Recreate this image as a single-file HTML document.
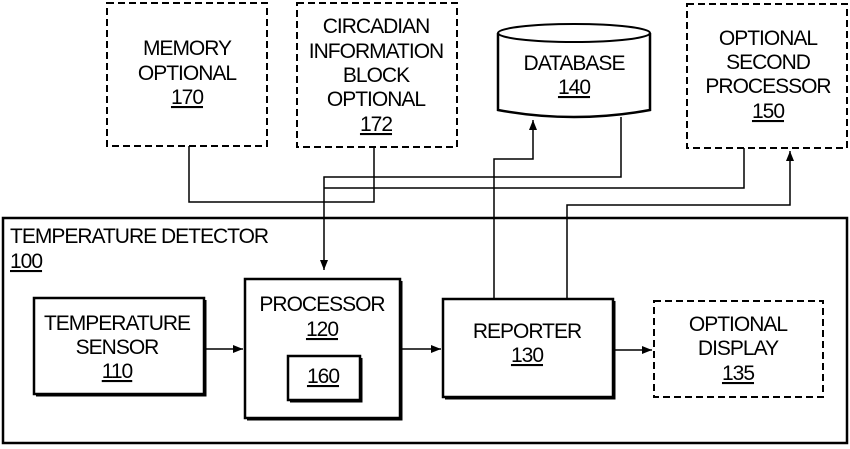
<!DOCTYPE html>
<html><head><style>
html,body{margin:0;padding:0;background:#fff;width:850px;height:449px;overflow:hidden}
text{font-family:"Liberation Sans",sans-serif;font-size:21px;fill:#000;text-anchor:middle;letter-spacing:-1px}
.u{text-decoration:underline}
</style></head><body>
<svg width="850" height="449" viewBox="0 0 850 449" xmlns="http://www.w3.org/2000/svg">
<defs><marker id="a" markerWidth="10" markerHeight="8" refX="10" refY="4" orient="auto" markerUnits="userSpaceOnUse"><path d="M0,0L10,4L0,8z" fill="#000"/></marker></defs>
<g fill="none" stroke="#000">
<rect x="107" y="3" width="160" height="143" stroke-width="2" stroke-dasharray="7,4"/>
<rect x="297" y="3" width="160" height="144" stroke-width="2" stroke-dasharray="7,4"/>
<rect x="687" y="4" width="160" height="144" stroke-width="2" stroke-dasharray="7,4"/>
<rect x="654" y="301" width="169" height="96" stroke-width="2" stroke-dasharray="7,4"/>
<rect x="3" y="218" width="844" height="225" stroke-width="2.5"/>
<rect x="34" y="298" width="170" height="96" stroke-width="2.5"/>
<path d="M36,395H205V300" stroke-width="3"/>
<rect x="245" y="279" width="155" height="139" stroke-width="2.5"/>
<path d="M247,419H401V281" stroke-width="3"/>
<rect x="288" y="356" width="72" height="44" stroke-width="2.5"/>
<path d="M290,401H361V358" stroke-width="3"/>
<rect x="443" y="299" width="170" height="98" stroke-width="2.5"/>
<path d="M445,398H614V301" stroke-width="3"/>
<path d="M498,33V110Q574,124 650,110V33" stroke-width="2.5"/>
<ellipse cx="574" cy="33" rx="76" ry="9" stroke-width="2"/>
<path d="M189,146V202H374V147" stroke-width="1.5"/>
<path d="M621,117V177H324V270" stroke-width="1.5" marker-end="url(#a)"/>
<path d="M744,148V188H324" stroke-width="1.5"/>
<path d="M494,299V159H533V120" stroke-width="1.5" marker-end="url(#a)"/>
<path d="M567,299V205H790V151" stroke-width="1.5" marker-end="url(#a)"/>
<path d="M204,349H243" stroke-width="1.5" marker-end="url(#a)"/>
<path d="M401,349H441" stroke-width="1.5" marker-end="url(#a)"/>
<path d="M614,350H652" stroke-width="1.5" marker-end="url(#a)"/>
</g>
<text x="187" y="55">MEMORY</text>
<text x="187" y="80">OPTIONAL</text>
<text x="187" y="104" class="u">170</text>
<text x="376" y="33">CIRCADIAN</text>
<text x="376" y="58">INFORMATION</text>
<text x="376" y="82">BLOCK</text>
<text x="376" y="106">OPTIONAL</text>
<text x="376" y="131" class="u">172</text>
<text x="574" y="70">DATABASE</text>
<text x="574" y="94" class="u">140</text>
<text x="768" y="45">OPTIONAL</text>
<text x="768" y="69">SECOND</text>
<text x="768" y="93">PROCESSOR</text>
<text x="768" y="118" class="u">150</text>
<text x="10" y="243" style="text-anchor:start">TEMPERATURE DETECTOR</text>
<text x="10" y="268" style="text-anchor:start" class="u">100</text>
<text x="117" y="330">TEMPERATURE</text>
<text x="117" y="354">SENSOR</text>
<text x="117" y="378" class="u">110</text>
<text x="322" y="311">PROCESSOR</text>
<text x="322" y="336" class="u">120</text>
<text x="323" y="383" class="u">160</text>
<text x="527" y="338">REPORTER</text>
<text x="527" y="362" class="u">130</text>
<text x="738" y="331">OPTIONAL</text>
<text x="738" y="355">DISPLAY</text>
<text x="738" y="380" class="u">135</text>
</svg>
</body></html>
